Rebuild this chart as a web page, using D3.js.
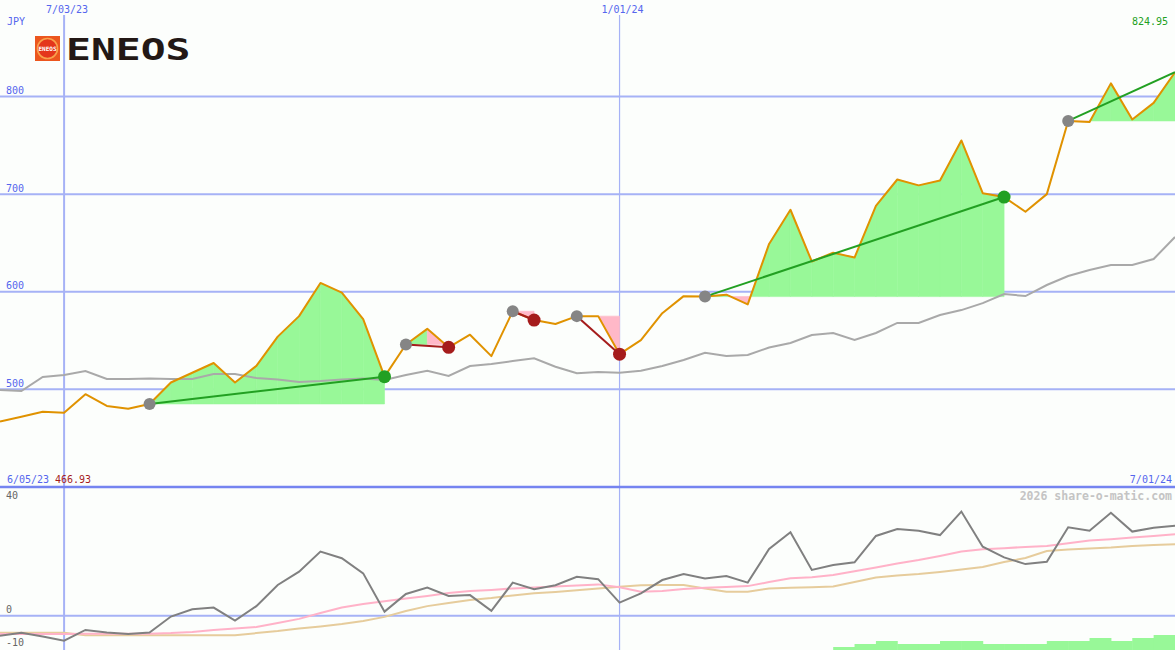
<!DOCTYPE html>
<html><head><meta charset="utf-8">
<script src="https://cdn.jsdelivr.net/npm/d3@7"></script>
<style>
html,body{margin:0;padding:0;background:#fcfefc;}
svg{display:block;}
text{font-family:"DejaVu Sans Mono",monospace;}
</style></head><body>
<svg id="c" width="1175" height="650"></svg>
<script>
// ---------- data ----------
const dates = ["2023-06-12","2023-06-19","2023-06-26","2023-07-03","2023-07-10","2023-07-17","2023-07-24","2023-07-31",
"2023-08-07","2023-08-14","2023-08-21","2023-08-28","2023-09-04","2023-09-11","2023-09-18","2023-09-25",
"2023-10-02","2023-10-09","2023-10-16","2023-10-23","2023-10-30","2023-11-06","2023-11-13","2023-11-20","2023-11-27",
"2023-12-04","2023-12-11","2023-12-18","2023-12-25","2024-01-01","2024-01-08","2024-01-15","2024-01-22","2024-01-29",
"2024-02-05","2024-02-12","2024-02-19","2024-02-26","2024-03-04","2024-03-11","2024-03-18","2024-03-25",
"2024-04-01","2024-04-08","2024-04-15","2024-04-22","2024-04-29","2024-05-06","2024-05-13","2024-05-20","2024-05-27",
"2024-06-03","2024-06-10","2024-06-17","2024-06-24","2024-07-01"];

const price = [466.93,472,477,476,495,483,480,485,507,517,527,507,524,554,575,609,599,572,513,546,562,543,556,534,580,571,567,575,575,536,550.5,578,595.5,595,597,587,649,684,631,640,635,688,715,709,714,755,701,697,682,700,775,774,813.5,776.5,793.5,824.95];

const priceMA = [499.3,498.3,512.6,514.7,518.8,510.6,510.6,511.1,510.6,510.6,515.7,515.7,511.6,510.1,507.5,508.5,510.1,511.1,509.6,514.7,519.1,513.7,523.9,525.9,529,531.8,523.2,516.4,517.7,517,519.1,523.9,530.1,537.5,534.2,535.2,542.9,547.5,555.7,557.7,550.6,557.7,568,568,576.2,581.2,588.3,597.6,595.6,606.9,616.1,622.3,627.4,627.4,633.5,656.1];

const momentum = [-6.9,-5.9,-7.2,-8.6,-4.9,-5.8,-6.3,-5.8,-0.3,2.2,2.8,-1.7,3.3,10.6,15.2,22.1,19.8,14.6,1.4,7.5,9.7,6.8,7.1,1.7,11.4,9.1,10.5,13.4,12.6,4.5,7.7,12.3,14.4,12.8,13.7,11.4,23,28.8,15.8,17.5,18.4,27.5,29.9,29.3,27.8,35.9,23.8,20.1,17.8,18.6,30.5,29.3,35.5,29,30.3,31];

const momentumFast = [-6.3,-6.3,-6.3,-6.3,-6.2,-6.2,-6.2,-6.2,-6.0,-5.6,-4.9,-4.4,-3.9,-2.5,-1.1,0.9,2.8,4.0,5.0,5.9,6.8,7.8,8.5,8.9,9.4,9.7,10.1,10.4,10.8,9.8,8.3,8.5,9.2,9.6,9.9,10.2,11.6,12.9,13.3,14.0,15.3,16.6,18.0,19.2,20.6,22.1,22.9,23.3,23.7,24.0,25.0,25.9,26.4,27.0,27.5,28.1];

const momentumSlow = [-5.9,-5.9,-5.9,-5.9,-6.7,-6.7,-6.7,-6.7,-6.7,-6.7,-6.7,-6.7,-6.0,-5.3,-4.4,-3.7,-2.9,-1.8,-0.4,1.6,3.3,4.4,5.4,6.1,7.0,7.7,8.2,8.8,9.4,10.0,10.5,10.6,10.6,9.4,8.3,8.3,9.4,9.6,9.8,10.1,11.6,13.2,13.9,14.4,15.1,15.9,16.8,18.5,19.9,22.3,22.8,23.2,23.5,24.0,24.4,24.6];

const signalBars = [0,0,0,0,0,0,0,0,0,0,0,0,0,0,0,0,0,0,0,0,0,0,0,0,0,0,0,0,0,0,0,0,0,0,0,0,0,0,0,
                    1,2,3,2,2,3,3,2,2,2,3,3,4,3,4,5,0];

const trendStart = [7,19,24,27,33,50];
const trendEnd   = [18,21,25,29,47,55];
const trendDir   = ["up","down","down","down","up","up"];
const trendDone  = [true,true,true,true,true,false];

const priceTicks = [500,600,700,800];
const lowerTicks = [40,0,-10];
const dateTicks = ["2023-07-03","2024-01-01"];
const dateTickLabels = ["7/03/23","1/01/24"];
const startLabel = "6/05/23";
const endLabel = "7/01/24";
const currency = "JPY";
const company = "ENEOS";
const watermark = "2026 share-o-matic.com";

// ---------- setup ----------
const W = 1175, H = 650;
const parse = d3.utcParse("%Y-%m-%d");
const D = dates.map(parse);
const svg = d3.select("#c");
const x = d3.scaleUtc().domain([D[0], D[D.length-1]]).range([0, W]);
const y = d3.scaleLinear().domain([d3.min(price), d3.max(price)]).range([421.6, 72.2]);
const yL = d3.scaleLinear().domain([-10, 40]).range([644.7, 499.7]);
const yB = d3.scaleLinear().domain([0, 5]).range([650, 635]);
const fmt2 = d3.format(".2f");

const BLUE_TXT = "#5566ee", GRID = "#a6b2f6", DIV = "#7584f0";
const GREEN_FILL = "#98f898", PINK_FILL = "#ffb8c8";

// ---------- gridlines ----------
const g = svg.append("g");
g.selectAll(".hg").data(priceTicks).join("line")
  .attr("x1", 0).attr("x2", W).attr("y1", d => y(d)).attr("y2", d => y(d))
  .attr("stroke", GRID).attr("stroke-width", 2);
g.selectAll(".vg").data(dateTicks).join("line")
  .attr("x1", d => x(parse(d))).attr("x2", d => x(parse(d)))
  .attr("y1", 15).attr("y2", H)
  .attr("stroke", GRID).attr("stroke-width", (d,i) => i === 0 ? 2 : 1.2);
// lower panel zero line & divider
g.append("line").attr("x1",0).attr("x2",W).attr("y1",yL(0)).attr("y2",yL(0))
  .attr("stroke", GRID).attr("stroke-width", 2);
g.append("line").attr("x1",0).attr("x2",W).attr("y1",487).attr("y2",487)
  .attr("stroke", DIV).attr("stroke-width", 2.5);

// ---------- trend fills ----------
const fillG = svg.append("g");
trendStart.forEach((s, k) => {
  const e = trendEnd[k], base = price[s], dir = trendDir[k];
  const pieces = [];
  for (let i = s; i < e; i++) {
    const x0 = x(D[i]), x1 = x(D[i+1]), p0 = price[i], p1 = price[i+1];
    const rising = p1 > p0;
    const parts = [];
    if ((p0 - base) * (p1 - base) < 0) {
      const t = (base - p0) / (p1 - p0);
      const xm = x0 + t * (x1 - x0);
      parts.push([{x:x0,v:p0},{x:xm,v:base}], [{x:xm,v:base},{x:x1,v:p1}]);
    } else parts.push([{x:x0,v:p0},{x:x1,v:p1}]);
    parts.forEach(pt => {
      const mid = (pt[0].v + pt[1].v) / 2;
      if (Math.abs(pt[0].v - base) < 1e-9 && Math.abs(pt[1].v - base) < 1e-9) return;
      let col;
      if (dir === "up") col = mid >= base ? GREEN_FILL : PINK_FILL;
      else col = rising ? GREEN_FILL : PINK_FILL;
      pieces.push({pts: pt, col});
    });
  }
  const area = d3.area().x(d => d.x).y0(y(base)).y1(d => y(d.v));
  fillG.selectAll(null).data(pieces).join("path")
    .attr("d", d => area(d.pts))
    .attr("fill", d => d.col).attr("stroke", d => d.col).attr("stroke-width", 0.6);
});

// ---------- price lines ----------
const line = d3.line().x((d,i) => x(D[i])).y(d => y(d));
svg.append("path").attr("d", line(priceMA)).attr("fill","none")
  .attr("stroke","#a9a9a9").attr("stroke-width",2);
svg.append("path").attr("d", line(price)).attr("fill","none")
  .attr("stroke","#e09200").attr("stroke-width",2).attr("stroke-linejoin","round");

// trend lines
trendStart.forEach((s, k) => {
  const e = trendEnd[k];
  svg.append("line")
    .attr("x1", x(D[s])).attr("y1", y(price[s]))
    .attr("x2", x(D[e])).attr("y2", y(price[e]))
    .attr("stroke", trendDir[k] === "up" ? "#22a022" : "#a51c1c").attr("stroke-width", 2);
});
// markers
trendStart.forEach((s, k) => {
  const e = trendEnd[k];
  svg.append("circle").attr("cx", x(D[s])).attr("cy", y(price[s])).attr("r", 6).attr("fill", "#858585");
  if (trendDone[k]) {
    svg.append("circle").attr("cx", x(D[e])).attr("cy", y(price[e])).attr("r", 6.5)
      .attr("fill", trendDir[k] === "up" ? "#22a022" : "#a51c1c");
  }
});

// ---------- lower panel ----------
const lowG = svg.append("g");
lowG.selectAll("rect").data(signalBars.map((v,i)=>({v,i})).filter(d => d.v > 0 && d.i < D.length-1)).join("rect")
  .attr("x", d => x(D[d.i])).attr("width", d => x(D[d.i+1]) - x(D[d.i]) + 0.5)
  .attr("y", d => yB(d.v)).attr("height", d => yB(0) - yB(d.v))
  .attr("fill", GREEN_FILL);
const lineL = d3.line().x((d,i) => x(D[i])).y(d => yL(d));
lowG.append("path").attr("d", lineL(momentumSlow)).attr("fill","none").attr("stroke","#e6cc9c").attr("stroke-width",2);
lowG.append("path").attr("d", lineL(momentumFast)).attr("fill","none").attr("stroke","#ffb2c8").attr("stroke-width",2);
lowG.append("path").attr("d", lineL(momentum)).attr("fill","none").attr("stroke","#808080").attr("stroke-width",2);

// ---------- labels ----------
const T = svg.append("g").attr("font-size", 10);
T.selectAll(".pt").data(priceTicks).join("text")
  .attr("x", 6).attr("y", d => y(d) - 2.5).attr("fill", BLUE_TXT).text(d => d);
T.selectAll(".dt").data(dateTicks).join("text")
  .attr("x", d => x(parse(d)) + 3).attr("y", 12.5).attr("text-anchor","middle")
  .attr("fill", BLUE_TXT).text((d,i) => dateTickLabels[i]);
T.append("text").attr("x", 7).attr("y", 25).attr("fill", BLUE_TXT).text(currency);
T.append("text").attr("x", 1168).attr("y", 25).attr("text-anchor","end").attr("fill","#22a022").text(fmt2(d3.max(price)));
T.append("text").attr("x", 7).attr("y", 483).attr("fill", BLUE_TXT).text(startLabel);
T.append("text").attr("x", 55).attr("y", 483).attr("fill", "#a51c1c").text(fmt2(d3.min(price)));
T.append("text").attr("x", 1172).attr("y", 483).attr("text-anchor","end").attr("fill", BLUE_TXT).text(endLabel);
T.selectAll(".lt").data(lowerTicks).join("text")
  .attr("x", 6)
  .attr("y", d => d === d3.min(lowerTicks) ? 646 : Math.max(499, yL(d) - 2.5))
  .attr("fill", "#666666").text(d => String(d));
svg.append("text").attr("x", 1172).attr("y", 500).attr("text-anchor","end")
  .attr("font-size", 11.5).attr("font-weight","bold").attr("fill","#c4c4c4").text(watermark);

// ---------- logo ----------
const logo = svg.append("g");
logo.append("rect").attr("x",35).attr("y",36).attr("width",25).attr("height",25).attr("fill","#ec561e");
logo.append("circle").attr("cx",47.5).attr("cy",48.5).attr("r",10).attr("fill","#e4361c")
  .attr("stroke","#f8a24c").attr("stroke-width",1.6);
logo.append("text").attr("x",47.5).attr("y",50.6).attr("text-anchor","middle")
  .attr("font-family","DejaVu Sans, sans-serif").attr("font-weight","bold").attr("font-size",6)
  .attr("textLength",18).attr("lengthAdjust","spacingAndGlyphs").attr("fill","#ffffff").text(company);
logo.append("text").attr("x",66).attr("y",60)
  .attr("font-family","DejaVu Sans, sans-serif").attr("font-weight","bold").attr("font-size",31)
  .attr("textLength",124.5).attr("lengthAdjust","spacingAndGlyphs").attr("fill","#231815").text(company);
</script>
</body></html>
